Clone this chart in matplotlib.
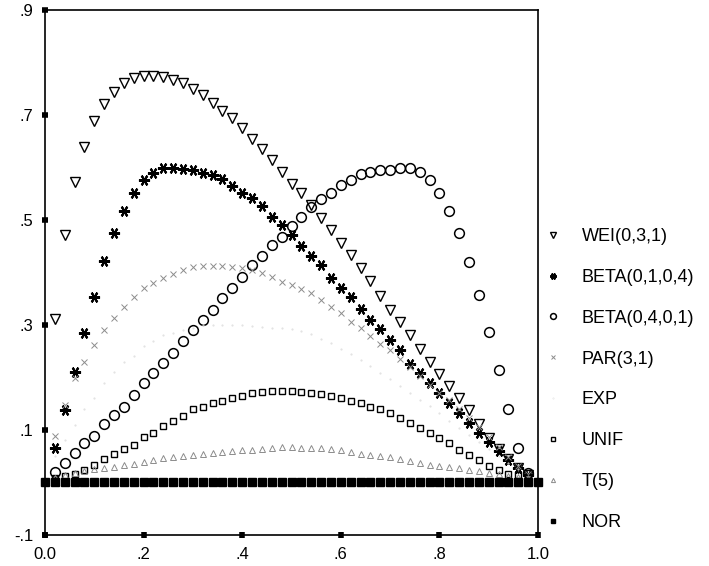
import matplotlib
matplotlib.use('Agg')
import matplotlib.pyplot as plt
import numpy as np

plt.rcParams['font.family'] = ['Liberation Sans', 'DejaVu Sans']

# x grid of the curves (0.02 .. 0.98) and of the NOR row (0 .. 1)
x = np.linspace(0.02, 0.98, 49)
x_nor = np.linspace(0.0, 1.0, 51)

wei = [0.311, 0.471, 0.572, 0.639, 0.689, 0.721, 0.744, 0.761, 0.770, 0.774,
       0.774, 0.772, 0.767, 0.761, 0.750, 0.738, 0.723, 0.708, 0.694, 0.675,
       0.654, 0.635, 0.614, 0.591, 0.568, 0.551, 0.529, 0.504, 0.481, 0.456,
       0.433, 0.409, 0.384, 0.355, 0.329, 0.306, 0.281, 0.254, 0.230, 0.207,
       0.184, 0.161, 0.138, 0.111, 0.085, 0.064, 0.045, 0.028, 0.014]

beta1 = [0.066, 0.138, 0.210, 0.285, 0.354, 0.421, 0.475, 0.517, 0.551, 0.576,
         0.589, 0.599, 0.599, 0.597, 0.595, 0.589, 0.585, 0.578, 0.564, 0.551,
         0.541, 0.526, 0.506, 0.491, 0.471, 0.450, 0.431, 0.414, 0.390, 0.370,
         0.353, 0.330, 0.310, 0.292, 0.271, 0.252, 0.226, 0.209, 0.190, 0.170,
         0.151, 0.132, 0.113, 0.094, 0.077, 0.060, 0.043, 0.027, 0.014]

beta2 = [0.020, 0.037, 0.056, 0.075, 0.089, 0.111, 0.129, 0.144, 0.167, 0.190,
         0.209, 0.228, 0.247, 0.270, 0.290, 0.310, 0.329, 0.351, 0.370, 0.391,
         0.414, 0.431, 0.452, 0.468, 0.489, 0.506, 0.525, 0.540, 0.551, 0.567,
         0.576, 0.588, 0.591, 0.595, 0.595, 0.599, 0.599, 0.591, 0.576, 0.551,
         0.517, 0.475, 0.420, 0.357, 0.287, 0.214, 0.140, 0.066, 0.018]

par = [0.089, 0.148, 0.199, 0.230, 0.262, 0.290, 0.313, 0.334, 0.353, 0.370,
       0.380, 0.390, 0.397, 0.405, 0.410, 0.412, 0.412, 0.412, 0.410, 0.409,
       0.405, 0.399, 0.391, 0.382, 0.376, 0.369, 0.361, 0.348, 0.334, 0.323,
       0.306, 0.294, 0.279, 0.264, 0.252, 0.235, 0.220, 0.203, 0.186, 0.170,
       0.157, 0.140, 0.123, 0.106, 0.087, 0.068, 0.049, 0.031, 0.016]

exp_ = [0.050, 0.080, 0.110, 0.140, 0.160, 0.190, 0.210, 0.230, 0.240, 0.260,
        0.270, 0.280, 0.285, 0.290, 0.295, 0.300, 0.300, 0.300, 0.300, 0.300,
        0.298, 0.296, 0.295, 0.294, 0.293, 0.289, 0.283, 0.273, 0.265, 0.255,
        0.245, 0.234, 0.222, 0.209, 0.197, 0.184, 0.171, 0.158, 0.145, 0.132,
        0.118, 0.104, 0.090, 0.077, 0.063, 0.050, 0.037, 0.025, 0.013]

unif = [0.008, 0.012, 0.016, 0.024, 0.033, 0.045, 0.054, 0.064, 0.071, 0.087,
        0.094, 0.108, 0.117, 0.127, 0.140, 0.144, 0.151, 0.155, 0.161, 0.165,
        0.170, 0.172, 0.174, 0.174, 0.174, 0.172, 0.170, 0.169, 0.165, 0.161,
        0.155, 0.151, 0.144, 0.140, 0.132, 0.123, 0.113, 0.104, 0.094, 0.085,
        0.075, 0.062, 0.052, 0.043, 0.031, 0.024, 0.016, 0.014, 0.009]

t5 = [0.009, 0.014, 0.018, 0.022, 0.026, 0.028, 0.030, 0.033, 0.036, 0.039,
      0.043, 0.046, 0.049, 0.050, 0.052, 0.054, 0.056, 0.058, 0.060, 0.061,
      0.062, 0.064, 0.066, 0.067, 0.067, 0.066, 0.066, 0.065, 0.064, 0.062,
      0.058, 0.055, 0.052, 0.050, 0.048, 0.044, 0.041, 0.038, 0.034, 0.031,
      0.030, 0.027, 0.024, 0.022, 0.019, 0.016, 0.013, 0.011, 0.009]

nor = [0.0] * 51

xticks = [0.0, 0.2, 0.4, 0.6, 0.8, 1.0]
xlabels = ['0.0', '.2', '.4', '.6', '.8', '1.0']
yticks = [-0.1, 0.1, 0.3, 0.5, 0.7, 0.9]
ylabels = ['-.1', '.1', '.3', '.5', '.7', '.9']

fig = plt.figure(figsize=(7.09, 5.66), dpi=100)
ax = fig.add_axes([0.0635, 0.0548, 0.6953, 0.9275])

# open markers, black or light grey, no lines
ax.plot(x, wei, 'v', ms=6.5, mfc='none', mec='black', mew=1.0, label='WEI(0,3,1)')
ax.plot(x, beta1, ls='none', marker=(6, 2, 90), ms=8, mec='black', mew=1.5,
        label='BETA(0,1,0,4)')
ax.plot(x, beta2, 'o', ms=7, mfc='none', mec='black', mew=1.1, label='BETA(0,4,0,1)')
ax.plot(x, par, 'x', ms=4.5, mec='#8c8c8c', mew=0.7, label='PAR(3,1)')
ax.plot(x, exp_, '.', ms=1.0, mec='#dddddd', mfc='#dddddd', label='EXP')
ax.plot(x, unif, 's', ms=5, mfc='none', mec='black', mew=1.0, label='UNIF')
ax.plot(x, t5, '^', ms=5, mfc='none', mec='#8c8c8c', mew=0.7, label='T(5)')
ax.plot(x_nor, nor, 's', ms=5.5, mfc='black', mec='black', clip_on=False, label='NOR')

ax.set_xlim(0, 1)
ax.set_ylim(-0.1, 0.9)
ax.set_xticks(xticks)
ax.set_xticklabels(xlabels)
ax.set_yticks(yticks)
ax.set_yticklabels(ylabels)
ax.tick_params(direction='inout', length=5, width=4, labelsize=12, pad=6)
for s in ax.spines.values():
    s.set_linewidth(1.2)

ax.legend(loc='upper left', bbox_to_anchor=(0.767, 0.597), bbox_transform=fig.transFigure,
          frameon=False, fontsize=13, markerscale=0.6, handlelength=1.0,
          handletextpad=1.1, labelspacing=1.32, borderpad=0, borderaxespad=0)

fig.savefig('out.png', dpi=100)
